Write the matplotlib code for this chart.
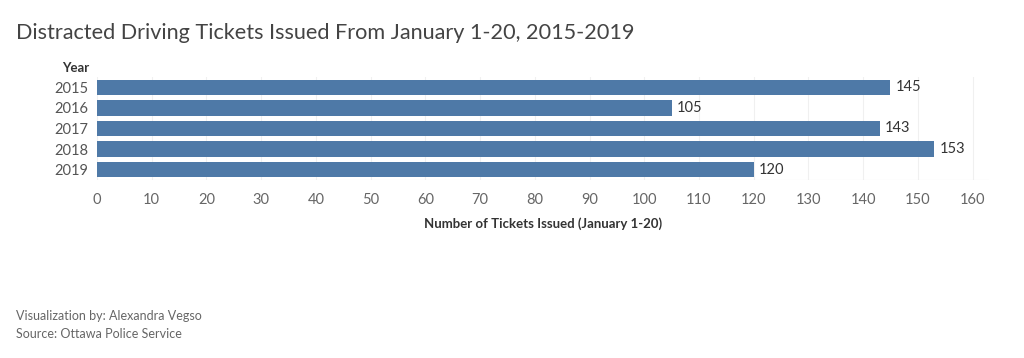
import matplotlib.pyplot as plt

# ---------- Dane ----------
years = ["2015", "2016", "2017", "2018", "2019"]
tickets = [145, 105, 143, 153, 120]
x_ticks = list(range(0, 161, 10))

plt.rcParams['font.family'] = ['Lato', 'DejaVu Sans']

fig = plt.figure(figsize=(10.24, 3.58), dpi=100)
ax = fig.add_axes([97 / 1024, 1 - 180 / 358, 892 / 1024, 103 / 358])

ypos = range(len(years))
ax.barh(ypos, tickets, height=0.74, color="#4e79a7")
for y, v in zip(ypos, tickets):
    ax.text(v + 1, y, str(v), va="center", ha="left", fontsize=10.5, color="#333333")

ax.set_xlim(0, 163)
ax.set_ylim(4.5, -0.5)
ax.set_yticks(list(ypos))
ax.set_yticklabels(years, fontsize=10.5, color="#555555")
ax.set_xticks(x_ticks)
ax.set_xticklabels([str(t) for t in x_ticks], fontsize=10.5, color="#666666")
ax.tick_params(length=0, pad=6)
ax.tick_params(axis="x", pad=9)
ax.grid(axis="x", color="#f0f0f0", linewidth=0.8)
ax.set_axisbelow(True)
for s in ax.spines.values():
    s.set_visible(False)
ax.axhline(4.5, color="#e6e6e6", linewidth=0.8)

ax.set_xlabel("Number of Tickets Issued (January 1-20)", fontsize=9.5,
              fontweight="bold", color="#333333", labelpad=8)

fig.text(62 / 1024, 1 - 68 / 358, "Year", fontsize=9.5, fontweight="bold",
         color="#333333", va="center", ha="left")
fig.text(16 / 1024, 1 - 33 / 358, "Distracted Driving Tickets Issued From January 1-20, 2015-2019",
         fontsize=15.6, color="#444444", va="center", ha="left")
fig.text(16 / 1024, 1 - 316 / 358, "Visualization by: Alexandra Vegso",
         fontsize=9, color="#666666", va="center", ha="left")
fig.text(16 / 1024, 1 - 334 / 358, "Source: Ottawa Police Service",
         fontsize=9, color="#666666", va="center", ha="left")

plt.savefig("out.png", dpi=100)
